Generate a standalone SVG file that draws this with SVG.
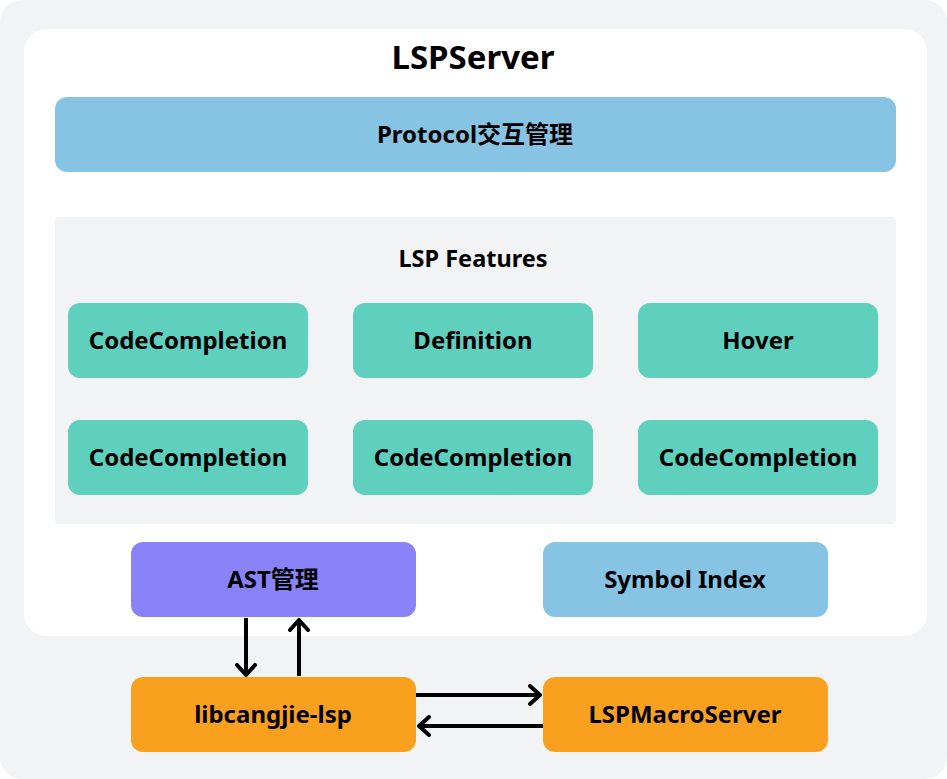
<svg xmlns="http://www.w3.org/2000/svg" width="947" height="779" viewBox="0 0 947 779">
<defs>
<style>
text{font-family:"Noto Sans","Noto Sans CJK SC",sans-serif;font-weight:bold;fill:#000;text-anchor:middle;dominant-baseline:central}
.t{font-size:24px}
.feat{fill:#5fcfbe}
.blue{fill:#87c4e4}
.orange{fill:#f9a11f}
.arr{stroke:#000;stroke-width:4;fill:none}
</style>
<marker id="ah" viewBox="0 0 14 22" refX="12" refY="11" markerWidth="14" markerHeight="22" markerUnits="userSpaceOnUse" orient="auto">
<path d="M2,2 L12,11 L2,20" fill="none" stroke="#000" stroke-width="4" stroke-linecap="round" stroke-linejoin="round"/>
</marker>
</defs>
<rect x="0" y="0" width="947" height="779" rx="22" fill="#f2f3f5"/>
<g id="lspserver">
<rect x="24" y="29" width="903" height="607" rx="22" fill="#fff"/>
<text x="473" y="56" style="font-size:33px">LSPServer</text>
</g>
<g id="protocol">
<rect class="blue" x="55" y="97" width="841" height="75" rx="12"/>
<text class="t" x="475" y="133">Protocol交互管理</text>
</g>
<g id="features">
<rect x="55" y="217" width="841" height="307" rx="4" fill="#f2f3f5"/>
<text x="473" y="258" style="font-size:23.5px">LSP Features</text>
</g>
<g id="f1"><rect class="feat" x="68" y="303" width="240" height="75" rx="12"/><text class="t" x="188" y="339">CodeCompletion</text></g>
<g id="f2"><rect class="feat" x="353" y="303" width="240" height="75" rx="12"/><text class="t" x="473" y="339">Definition</text></g>
<g id="f3"><rect class="feat" x="638" y="303" width="240" height="75" rx="12"/><text class="t" x="758" y="339">Hover</text></g>
<g id="f4"><rect class="feat" x="68" y="420" width="240" height="75" rx="12"/><text class="t" x="188" y="456">CodeCompletion</text></g>
<g id="f5"><rect class="feat" x="353" y="420" width="240" height="75" rx="12"/><text class="t" x="473" y="456">CodeCompletion</text></g>
<g id="f6"><rect class="feat" x="638" y="420" width="240" height="75" rx="12"/><text class="t" x="758" y="456">CodeCompletion</text></g>
<g id="ast"><rect x="131" y="542" width="285" height="75" rx="12" fill="#8a82f9"/><text class="t" x="273" y="578">AST管理</text></g>
<g id="symbol"><rect class="blue" x="543" y="542" width="285" height="75" rx="12"/><text class="t" x="685" y="578">Symbol Index</text></g>
<g id="libcangjie"><rect class="orange" x="131" y="677" width="285" height="75" rx="12"/><text class="t" x="273" y="713">libcangjie-lsp</text></g>
<g id="macro"><rect class="orange" x="543" y="677" width="285" height="75" rx="12"/><text class="t" x="685" y="713">LSPMacroServer</text></g>
<g id="connectors">
<line class="arr" x1="246" y1="618" x2="246" y2="675" marker-end="url(#ah)"/>
<line class="arr" x1="299" y1="676" x2="299" y2="620" marker-end="url(#ah)"/>
<line class="arr" x1="416" y1="695" x2="540" y2="695" marker-end="url(#ah)"/>
<line class="arr" x1="543" y1="726" x2="419" y2="726" marker-end="url(#ah)"/>
</g>
</svg>
